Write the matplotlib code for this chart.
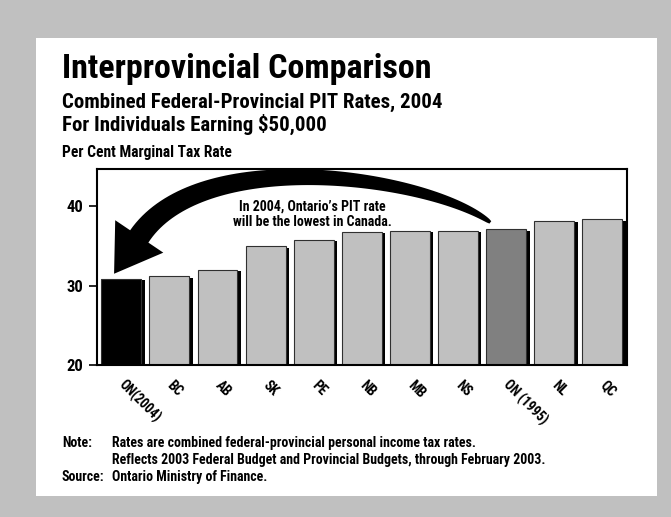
import numpy as np
import matplotlib.pyplot as plt
import matplotlib.transforms as mtransforms
from matplotlib.patches import Polygon, Rectangle

provinces = ['ON(2004)', 'BC', 'AB', 'SK', 'PE', 'NB', 'MB', 'NS', 'ON (1995)', 'NL', 'QC']
rates = [30.9, 31.2, 32.0, 35.0, 35.8, 36.8, 36.9, 36.9, 37.1, 38.2, 38.4]
bar_colors = ['black'] + ['#c0c0c0'] * 7 + ['#808080'] + ['#c0c0c0'] * 2
y_ticks = [20, 30, 40]

title = 'Interprovincial Comparison'
subtitles = ['Combined Federal-Provincial PIT Rates, 2004',
             'For Individuals Earning $50,000']
y_label = 'Per Cent Marginal Tax Rate'
callout = 'In 2004, Ontario\u2019s PIT rate\nwill be the lowest in Canada.'
notes = [('Note:', 'Rates are combined federal-provincial personal income tax rates.'),
         ('', 'Reflects 2003 Federal Budget and Provincial Budgets, through February 2003.'),
         ('Source:', 'Ontario Ministry of Finance.')]

plt.rcParams['font.family'] = ['Roboto Condensed', 'Liberation Sans Narrow', 'DejaVu Sans']
plt.rcParams['font.stretch'] = 'condensed'
plt.rcParams['font.weight'] = 'bold'

W, H = 671, 517
fig = plt.figure(figsize=(W / 100, H / 100), dpi=100)
fig.patch.set_facecolor('#c0c0c0')

# white page on the grey background
fig.add_artist(Rectangle((36 / W, 1 - 496 / H), (657 - 36) / W, (496 - 38) / H,
                         transform=fig.transFigure, facecolor='white',
                         edgecolor='none', zorder=0))

fig.text(62 / W, 1 - 78 / H, title, fontsize=24.5, va='baseline')
fig.text(62 / W, 1 - 108 / H, subtitles[0], fontsize=15, va='baseline')
fig.text(62 / W, 1 - 131 / H, subtitles[1], fontsize=15, va='baseline')
fig.text(62 / W, 1 - 157 / H, y_label, fontsize=11.2, va='baseline')

ax = fig.add_axes([97 / W, 1 - 365 / H, (627 - 97) / W, (365 - 169) / H])
ax.set_facecolor('white')

x = np.arange(len(provinces))
vals = np.array(rates)
# drop shadow behind each bar
ax.bar(x + 0.07, vals - 0.2, width=0.83, color='black', zorder=1)
ax.bar(x, vals, width=0.83, color=bar_colors, edgecolor='#303030',
       linewidth=0.8, zorder=2)

ax.set_xlim(-0.505, len(provinces) - 0.49)
ax.set_ylim(20, 44.7)
ax.set_yticks(y_ticks)
ax.set_yticklabels([str(t) for t in y_ticks], fontsize=12)
ax.tick_params(axis='y', length=6, width=1.2, pad=4)
ax.set_xticks([])
for s in ax.spines.values():
    s.set_linewidth(1.5)

for xi, name in zip(x, provinces):
    ax.text(xi + 0.1, -0.065, name, transform=ax.get_xaxis_transform(),
            rotation=-45, ha='left', va='top', rotation_mode='anchor',
            fontsize=9.8)


def swoosh(ax, tail, tip, head_len=45, head_w=58):
    """Tapered curved arrow, built in pixel space from two data points."""
    T = ax.transData.transform(tail)
    P = ax.transData.transform(tip)
    d = np.array([-0.56, -0.83])
    d /= np.hypot(*d)
    B3 = P - head_len * d
    C2 = B3 - 112 * d
    C1 = T + np.array([-61.0, 46.0])
    t = np.linspace(0, 1, 80)[:, None]
    pts = ((1 - t) ** 3 * T + 3 * (1 - t) ** 2 * t * C1
           + 3 * (1 - t) * t ** 2 * C2 + t ** 3 * B3)
    der = (3 * (1 - t) ** 2 * (C1 - T) + 6 * (1 - t) * t * (C2 - C1)
           + 3 * t ** 2 * (B3 - C2))
    der /= np.hypot(der[:, 0], der[:, 1])[:, None]
    nrm = np.column_stack([-der[:, 1], der[:, 0]])
    w = (3 + 19 * t ** 0.6)
    left = pts + nrm * w / 2
    right = pts - nrm * w / 2
    n_end = nrm[-1]
    head = [B3 + n_end * head_w / 2, P, B3 - n_end * head_w / 2]
    verts = np.vstack([left, head, right[::-1]])
    ax.add_patch(Polygon(verts, closed=True, facecolor='black', edgecolor='none',
                         transform=mtransforms.IdentityTransform(),
                         clip_on=False, zorder=4))


# arrow from Ontario 1995 back to Ontario 2004
i_old = provinces.index('ON (1995)')
i_new = provinces.index('ON(2004)')
swoosh(ax, (x[i_old] - 0.33, rates[i_old] + 0.87),
       (x[i_new] - 0.15, rates[i_new] + 0.6))

ax.text(3.97, 39.0, callout, ha='center', va='center', fontsize=10,
        linespacing=1.05, zorder=5)

for k, (lead, body) in enumerate(notes):
    yb = 1 - (447 + 17 * k) / H
    fig.text(62 / W, yb, lead, fontsize=10, va='baseline')
    fig.text(112 / W, yb, body, fontsize=10, va='baseline')

fig.savefig('out.png', dpi=100, facecolor=fig.get_facecolor())
